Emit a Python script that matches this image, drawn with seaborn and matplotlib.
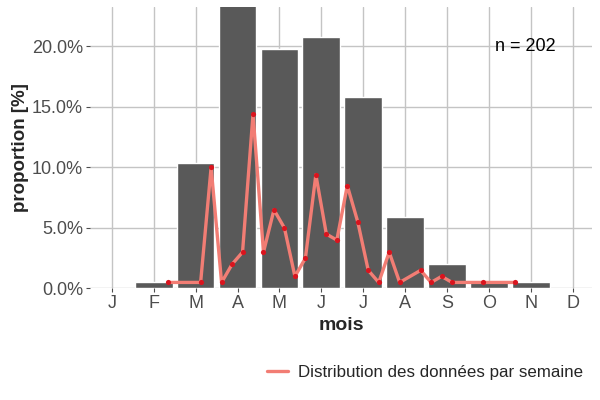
import numpy as np
import pandas as pd
import matplotlib
matplotlib.use("Agg")
import matplotlib.pyplot as plt
from matplotlib.ticker import PercentFormatter
import seaborn as sns

# monthly share of observations (bars), in percent
months = [2, 3, 4, 5, 6, 7, 8, 9, 10, 11]
month_pct = [0.5, 10.4, 23.8, 19.8, 20.8, 15.8, 5.9, 2.0, 0.5, 0.5]

# weekly share (line), position in months, value in percent
week_pos = [2.35, 3.12, 3.37, 3.62, 3.87, 4.12, 4.37, 4.62, 4.87, 5.12,
            5.37, 5.62, 5.87, 6.12, 6.37, 6.62, 6.87, 7.12, 7.37, 7.62,
            7.87, 8.37, 8.62, 8.87, 9.12, 9.87, 10.62]
week_pct = [0.5, 0.5, 10.0, 0.5, 2.0, 3.0, 14.4, 3.0, 6.5, 5.0,
            1.0, 2.5, 9.4, 4.5, 4.0, 8.5, 5.5, 1.5, 0.5, 3.0,
            0.5, 1.5, 0.5, 1.0, 0.5, 0.5, 0.5]

month_ticks = list(range(1, 13))
month_labels = ["J", "F", "M", "A", "M", "J", "J", "A", "S", "O", "N", "D"]
n_obs = 202

sns.set_theme(style="whitegrid")
plt.rcParams["font.family"] = ["Liberation Sans", "DejaVu Sans"]

bars = pd.DataFrame({"mois": months, "pct": month_pct})
weeks = pd.DataFrame({"pos": week_pos, "pct": week_pct})

fig = plt.figure(figsize=(6, 4), dpi=100)
ax = fig.add_axes([0.15, 0.2788, 0.8367, 0.7037])

sns.barplot(data=bars, x="mois", y="pct", native_scale=True, width=0.9,
            color="#595959", saturation=1, ax=ax, zorder=2)
sns.lineplot(data=weeks, x="pos", y="pct", color="#f27d74", linewidth=2.4,
             ax=ax, zorder=3, label="Distribution des données par semaine")
sns.scatterplot(data=weeks, x="pos", y="pct", color="#d9141e", s=14,
                linewidth=0, ax=ax, zorder=4, legend=False)

ax.set_xlim(0.48, 12.46)
ax.set_ylim(0, 23.26)
ax.set_xticks(month_ticks)
ax.set_xticklabels(month_labels)
ax.set_yticks([0, 5, 10, 15, 20])
ax.yaxis.set_major_formatter(PercentFormatter(xmax=100, decimals=1))

ax.grid(True, color="#c4c4c4", linewidth=1)
ax.set_axisbelow(True)
for s in ax.spines.values():
    s.set_visible(False)
ax.tick_params(axis="both", length=3, width=0.8, color="#4d4d4d",
               labelcolor="#4d4d4d", labelsize=13, pad=2, left=True, bottom=True)

ax.set_xlabel("mois", fontsize=14, fontweight="bold", labelpad=3)
ax.set_ylabel("proportion [%]", fontsize=13.5, fontweight="bold", labelpad=2)

ax.text(10.86, 20, f"n = {n_obs}", fontsize=13, ha="center", va="center",
        color="black", zorder=5)

handles, labels = ax.get_legend_handles_labels()
ax.get_legend().remove()
fig.legend(handles, labels, loc="center right", bbox_to_anchor=(0.997, 0.07),
           frameon=False, fontsize=12.2, handlelength=1.2, handletextpad=0.6)

fig.savefig("out.png", dpi=100)
